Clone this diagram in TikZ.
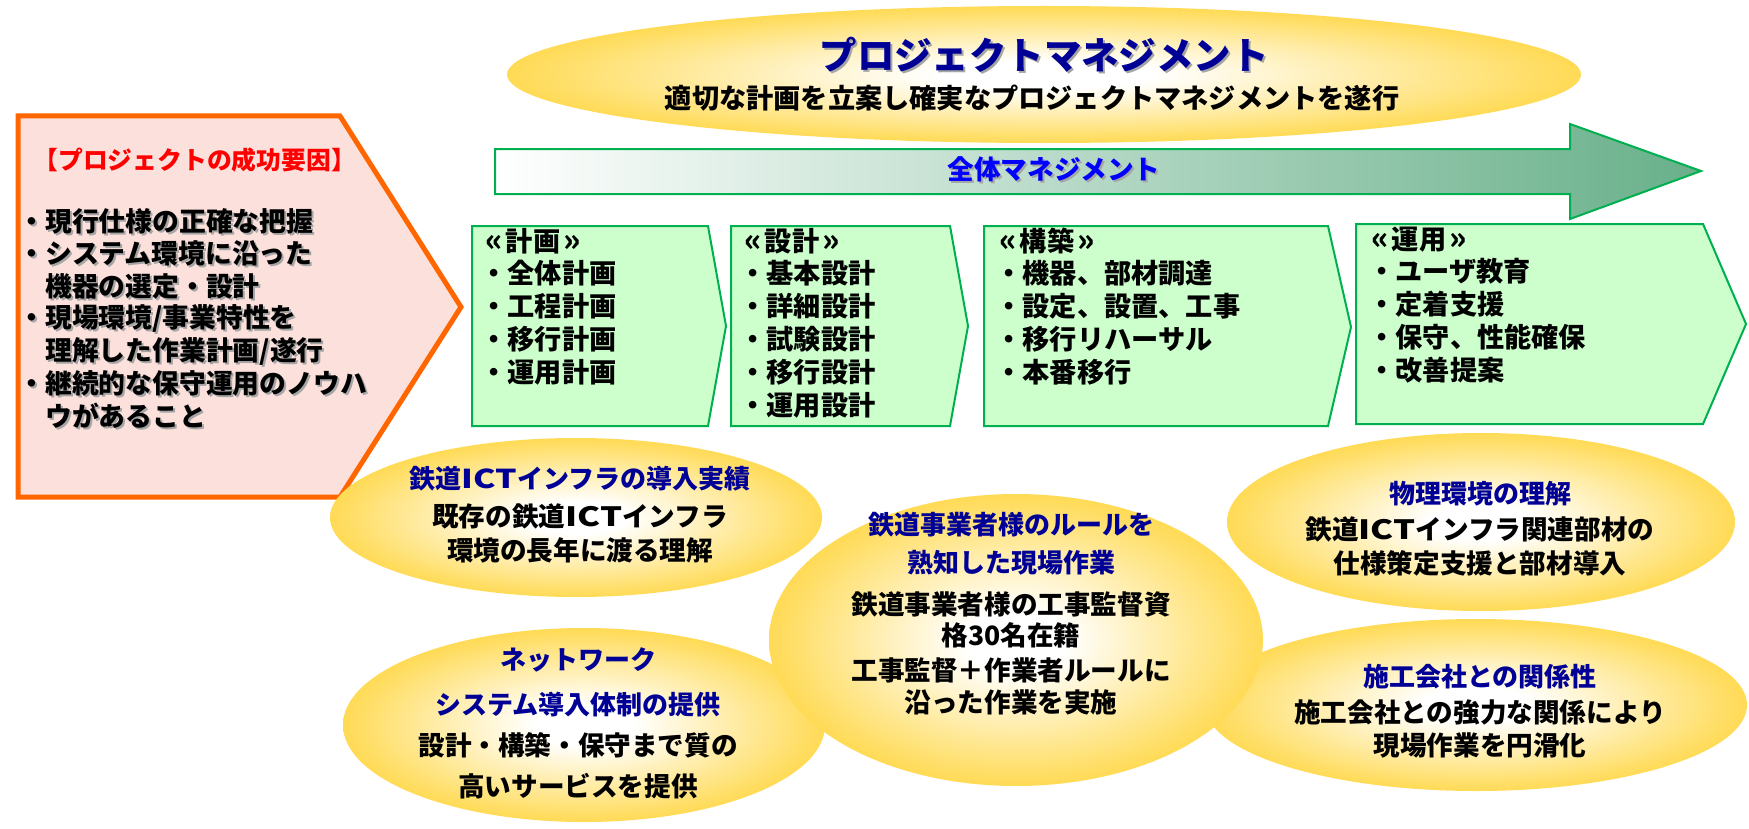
\documentclass[tikz,border=0pt]{standalone}
\usepackage{fontspec}
\usepackage{graphicx}
\setmainfont{Noto Sans CJK JP}
\usetikzlibrary{shapes.geometric}
\definecolor{gold}{RGB}{255,200,0}
\definecolor{navyt}{RGB}{0,0,150}
\definecolor{bluet}{RGB}{0,0,255}
\definecolor{redt}{RGB}{255,0,0}
\definecolor{boxgreen}{RGB}{0,176,80}
\definecolor{boxfill}{RGB}{204,255,204}
\definecolor{arrowgreen}{RGB}{104,176,138}
\definecolor{pinkfill}{RGB}{252,224,220}
\definecolor{orangeb}{RGB}{255,102,0}
\definecolor{shadowgray}{RGB}{165,165,165}
\pgfdeclareradialshading{goldball}{\pgfpoint{0bp}{0bp}}{color(0bp)=(white); color(5bp)=(white); color(35bp)=(gold); color(50bp)=(gold)}
\newcommand{\shd}[1]{\leavevmode\rlap{\kern1pt\raisebox{-1pt}{\textcolor{shadowgray}{#1}}}#1}
\newcommand{\ICT}{\scalebox{1.3}[1]{ICT}}
\newcommand{\myopen}{\makebox[0.75em][l]{\scalebox{1.15}{«}}}
\newcommand{\myclose}{\makebox[0.75em][r]{\scalebox{1.15}{»}}}
\tikzset{
  goldell/.style={shading=goldball},
  gbox/.style={draw=boxgreen, line width=1pt, fill=boxfill},
  lefttxt/.style={anchor=west, inner sep=0pt, font=\fontsize{13.4}{15}\selectfont\bfseries},
  redtitle/.style={anchor=west, inner sep=0pt, text=redt, font=\fontsize{12.4}{14}\selectfont\bfseries},
  boxtxt/.style={anchor=west, inner sep=0pt, font=\fontsize{13.6}{15}\selectfont\bfseries},
  etitle/.style={inner sep=0pt, text=navyt, font=\fontsize{13}{15}\selectfont\bfseries},
  ebody/.style={inner sep=0pt, text=black, font=\fontsize{13.3}{15}\selectfont\bfseries},
  toptitle/.style={inner sep=0pt, text=navyt, font=\fontsize{18.7}{21}\selectfont\bfseries},
  topsub/.style={inner sep=0pt, text=black, font=\fontsize{13.6}{16}\selectfont\bfseries},
  arrowlbl/.style={inner sep=0pt, text=bluet, font=\fontsize{13.3}{15}\selectfont\bfseries}
}
\begin{document}
\begin{tikzpicture}[x=0.5pt,y=-0.5pt]
\useasboundingbox (0,0) rectangle (1749,829);
\fill[white] (0,0) rectangle (1749,829);

% top ellipse
\shade[goldell] (1044,74.5) ellipse [x radius=537, y radius=68.5];
\node[toptitle] (pmtitle) at (1044,56) {\shd{プロジェクトマネジメント}};
\node[topsub] (pmsub) at (1032,98) {適切な計画を立案し確実なプロジェクトマネジメントを遂行};

% overall management arrow
\path[draw=boxgreen, line width=1pt, left color=white, right color=arrowgreen]
  (495,149) -- (1570,149) -- (1570,124) -- (1701,171) -- (1570,219) -- (1570,194) -- (495,194) -- cycle;
\node[arrowlbl] (allmgmt) at (1054,170) {\shd{全体マネジメント}};

% success factors pentagon
\path[draw=orangeb, line width=2.5pt, fill=pinkfill, line join=miter]
  (18,116) -- (340,116) -- (461,307) -- (340,497) -- (18,497) -- cycle;
\node[redtitle] (sftitle) at (33,160) {【プロジェクトの成功要因】};
\node[lefttxt] (sf1) at (18,222) {\shd{・現行仕様の正確な把握}};
\node[lefttxt] (sf2) at (18,254) {\shd{・システム環境に沿った}};
\node[lefttxt] (sf2b) at (45,287) {\shd{機器の選定・設計}};
\node[lefttxt] (sf3) at (18,319) {\shd{・現場環境/事業特性を}};
\node[lefttxt] (sf3b) at (45,352) {\shd{理解した作業計画/遂行}};
\node[lefttxt] (sf4) at (18,384) {\shd{・継続的な保守運用のノウハ}};
\node[lefttxt] (sf4b) at (45,417) {\shd{ウがあること}};

% phase boxes
\path[gbox] (472,226) -- (708,226) -- (726,326) -- (708,426) -- (472,426) -- cycle;
\path[gbox] (731,226) -- (950,226) -- (968,326) -- (950,426) -- (731,426) -- cycle;
\path[gbox] (984,226) -- (1328,226) -- (1351,327) -- (1328,426) -- (984,426) -- cycle;
\path[gbox] (1356,224) -- (1703,224) -- (1746,324) -- (1703,424) -- (1356,424) -- cycle;

\node[boxtxt] (h1) at (485,241) {\myopen 計画\myclose};
\foreach \t [count=\i from 0] in {全体計画,工程計画,移行計画,運用計画}
  \node[boxtxt] (pa\i) at (480,{273+33*\i}) {・\t};
\node[boxtxt] (h2) at (744,241) {\myopen 設計\myclose};
\foreach \t [count=\i from 0] in {基本設計,詳細設計,試験設計,移行設計,運用設計}
  \node[boxtxt] (pb\i) at (739,{273+33*\i}) {・\t};
\node[boxtxt] (h3) at (999,241) {\myopen 構築\myclose};
\foreach \t [count=\i from 0] in {機器、部材調達,設定、設置、工事,移行リハーサル,本番移行}
  \node[boxtxt] (pc\i) at (995,{273+33*\i}) {・\t};
\node[boxtxt] (h4) at (1371,240) {\myopen 運用\myclose};
\foreach \t [count=\i from 0] in {ユーザ教育,定着支援,保守、性能確保,改善提案}
  \node[boxtxt] (pd\i) at (1368,{271+33*\i}) {・\t};

% strength ellipses
\shade[goldell] (1481,522) ellipse [x radius=254, y radius=89];
\shade[goldell] (1476,705) ellipse [x radius=271, y radius=86];
\shade[goldell] (576,517.5) ellipse [x radius=246, y radius=79.5];
\shade[goldell] (584,725) ellipse [x radius=241, y radius=97];
\shade[goldell] (1016,640) ellipse [x radius=247, y radius=146];

\node[etitle] (e1t) at (580,479) {鉄道\ICT インフラの導入実績};
\node[ebody] (e1a) at (580,516) {既存の鉄道\ICT インフラ};
\node[ebody] (e1b) at (580,550) {環境の長年に渡る理解};

\node[etitle] (e2t) at (578,660) {ネットワーク};
\node[etitle] (e2u) at (578,705) {システム導入体制の提供};
\node[ebody] (e2a) at (578,745) {設計・構築・保守まで質の};
\node[ebody] (e2b) at (578,786) {高いサービスを提供};

\node[etitle] (e3t) at (1011,525) {鉄道事業者様のルールを};
\node[etitle] (e3u) at (1011,563) {熟知した現場作業};
\node[ebody] (e3a) at (1011,604) {鉄道事業者様の工事監督資};
\node[ebody] (e3b) at (1011,635) {格30名在籍};
\node[ebody] (e3c) at (1011,670) {工事監督＋作業者ルールに};
\node[ebody] (e3d) at (1011,702) {沿った作業を実施};

\node[etitle] (e4t) at (1480,494) {物理環境の理解};
\node[ebody] (e4a) at (1480,529) {鉄道\ICT インフラ関連部材の};
\node[ebody] (e4b) at (1480,563) {仕様策定支援と部材導入};

\node[etitle] (e5t) at (1480,677) {施工会社との関係性};
\node[ebody] (e5a) at (1480,712) {施工会社との強力な関係により};
\node[ebody] (e5b) at (1480,745) {現場作業を円滑化};
\end{tikzpicture}
\end{document}
